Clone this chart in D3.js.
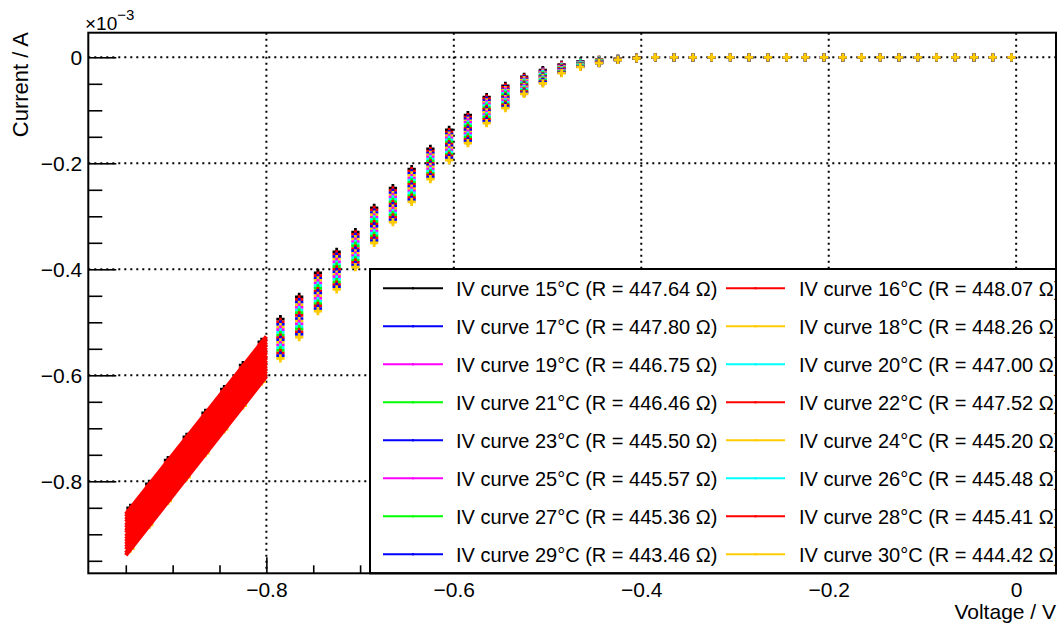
<!DOCTYPE html>
<html><head><meta charset="utf-8">
<script src="https://cdn.jsdelivr.net/npm/d3@7"></script>
<style>
body{margin:0;background:#fff;}
text{font-family:"Liberation Sans",Arial,Helvetica,sans-serif;fill:#000;}
</style>
</head><body>
<svg id="c" width="1061" height="623"></svg>
<script>
// ---------------- data ----------------
const voltages = [-0.945,-0.925,-0.905,-0.885,-0.865,-0.845,-0.825,-0.805,-0.785,-0.765,-0.745,-0.725,-0.705,-0.685,-0.665,-0.645,-0.625,-0.605,-0.585,-0.565,-0.545,-0.525,-0.505,-0.485,-0.465,-0.445,-0.425,-0.405,-0.385,-0.365,-0.345,-0.325,-0.305,-0.285,-0.265,-0.245,-0.225,-0.205,-0.185,-0.165,-0.145,-0.125,-0.105,-0.085,-0.065,-0.045,-0.025,-0.005];
const temperatures = [15,16,17,18,19,20,21,22,23,24,25,26,27,28,29,30];
const resistances = [447.64,448.07,447.80,448.26,446.75,447.00,446.46,447.52,445.50,445.20,445.57,445.48,445.36,445.41,443.46,444.42];
const seriesColors = ["#000000","#ff0000","#0000ff","#ffcc00","#ff00ff","#00ffff","#00ff00","#ff0000","#0000ff","#ffcc00","#ff00ff","#00ffff","#00ff00","#ff0000","#0000ff","#ffcc00"];
// fit value (x1e-3 A) at V = -0.8, fit range [-0.95, -0.8]
const fitAtMinus08 = [-0.527,-0.532,-0.537,-0.542,-0.547,-0.552,-0.557,-0.562,-0.567,-0.572,-0.577,-0.582,-0.587,-0.592,-0.597,-0.602];
const fitRange = [-0.95,-0.8];
// current values in units of 1e-3 A
const iv15 = [-0.850,-0.805,-0.760,-0.716,-0.671,-0.626,-0.581,-0.537,-0.494,-0.452,-0.407,-0.367,-0.330,-0.284,-0.247,-0.211,-0.173,-0.137,-0.109,-0.075,-0.054,-0.037,-0.024,-0.014,-0.008,-0.005,-0.003,-0.001,0,0,0,0,0,0,0,0,0,0,0,0,0,0,0,0,0,0,0,0];
const iv16 = [-0.855,-0.810,-0.765,-0.721,-0.676,-0.631,-0.586,-0.542,-0.499,-0.457,-0.412,-0.372,-0.334,-0.288,-0.251,-0.215,-0.177,-0.141,-0.113,-0.078,-0.057,-0.039,-0.026,-0.015,-0.009,-0.005,-0.003,-0.001,0,0,0,0,0,0,0,0,0,0,0,0,0,0,0,0,0,0,0,0];
const iv17 = [-0.860,-0.815,-0.770,-0.726,-0.681,-0.636,-0.591,-0.547,-0.504,-0.462,-0.417,-0.376,-0.339,-0.293,-0.256,-0.219,-0.181,-0.145,-0.116,-0.082,-0.060,-0.041,-0.027,-0.016,-0.009,-0.006,-0.003,-0.001,0,0,0,0,0,0,0,0,0,0,0,0,0,0,0,0,0,0,0,0];
const iv18 = [-0.865,-0.820,-0.775,-0.731,-0.686,-0.641,-0.596,-0.552,-0.509,-0.467,-0.421,-0.381,-0.343,-0.297,-0.260,-0.223,-0.184,-0.148,-0.120,-0.085,-0.062,-0.043,-0.029,-0.017,-0.010,-0.006,-0.003,-0.001,0,0,0,0,0,0,0,0,0,0,0,0,0,0,0,0,0,0,0,0];
const iv19 = [-0.871,-0.826,-0.781,-0.736,-0.691,-0.646,-0.601,-0.557,-0.514,-0.472,-0.426,-0.386,-0.348,-0.302,-0.264,-0.228,-0.188,-0.152,-0.123,-0.088,-0.065,-0.046,-0.031,-0.018,-0.011,-0.007,-0.004,-0.001,0,0,0,0,0,0,0,0,0,0,0,0,0,0,0,0,0,0,0,0];
const iv20 = [-0.876,-0.831,-0.786,-0.741,-0.696,-0.651,-0.606,-0.562,-0.519,-0.477,-0.431,-0.391,-0.352,-0.306,-0.268,-0.232,-0.192,-0.156,-0.127,-0.091,-0.068,-0.048,-0.032,-0.019,-0.011,-0.007,-0.004,-0.001,0,0,0,0,0,0,0,0,0,0,0,0,0,0,0,0,0,0,0,0];
const iv21 = [-0.881,-0.836,-0.791,-0.746,-0.701,-0.656,-0.611,-0.567,-0.524,-0.482,-0.436,-0.395,-0.356,-0.310,-0.273,-0.236,-0.196,-0.160,-0.130,-0.095,-0.071,-0.050,-0.034,-0.020,-0.012,-0.007,-0.004,-0.001,0,0,0,0,0,0,0,0,0,0,0,0,0,0,0,0,0,0,0,0];
const iv22 = [-0.886,-0.841,-0.796,-0.751,-0.706,-0.661,-0.616,-0.572,-0.529,-0.487,-0.441,-0.400,-0.361,-0.315,-0.277,-0.240,-0.200,-0.164,-0.134,-0.098,-0.074,-0.052,-0.036,-0.021,-0.013,-0.008,-0.004,-0.001,0,0,0,0,0,0,0,0,0,0,0,0,0,0,0,0,0,0,0,0];
const iv23 = [-0.891,-0.846,-0.801,-0.757,-0.712,-0.667,-0.622,-0.577,-0.533,-0.493,-0.445,-0.405,-0.365,-0.319,-0.281,-0.244,-0.203,-0.167,-0.137,-0.101,-0.076,-0.054,-0.037,-0.023,-0.013,-0.008,-0.004,-0.002,0,0,0,0,0,0,0,0,0,0,0,0,0,0,0,0,0,0,0,0];
const iv24 = [-0.896,-0.851,-0.806,-0.762,-0.717,-0.672,-0.627,-0.582,-0.538,-0.498,-0.450,-0.410,-0.370,-0.324,-0.285,-0.248,-0.207,-0.171,-0.141,-0.104,-0.079,-0.056,-0.039,-0.024,-0.014,-0.009,-0.004,-0.002,0,0,0,0,0,0,0,0,0,0,0,0,0,0,0,0,0,0,0,0];
const iv25 = [-0.901,-0.856,-0.811,-0.767,-0.722,-0.677,-0.632,-0.587,-0.543,-0.503,-0.455,-0.414,-0.374,-0.328,-0.290,-0.252,-0.211,-0.175,-0.144,-0.108,-0.082,-0.058,-0.041,-0.025,-0.015,-0.009,-0.004,-0.002,0,0,0,0,0,0,0,0,0,0,0,0,0,0,0,0,0,0,0,0];
const iv26 = [-0.906,-0.861,-0.816,-0.772,-0.727,-0.682,-0.637,-0.592,-0.548,-0.508,-0.460,-0.419,-0.378,-0.332,-0.294,-0.256,-0.215,-0.179,-0.148,-0.111,-0.085,-0.060,-0.042,-0.026,-0.015,-0.009,-0.004,-0.002,0,0,0,0,0,0,0,0,0,0,0,0,0,0,0,0,0,0,0,0];
const iv27 = [-0.912,-0.867,-0.822,-0.777,-0.732,-0.687,-0.642,-0.597,-0.553,-0.513,-0.465,-0.424,-0.383,-0.337,-0.298,-0.261,-0.219,-0.183,-0.151,-0.114,-0.088,-0.063,-0.044,-0.027,-0.016,-0.010,-0.005,-0.002,0,0,0,0,0,0,0,0,0,0,0,0,0,0,0,0,0,0,0,0];
const iv28 = [-0.917,-0.872,-0.827,-0.782,-0.737,-0.692,-0.647,-0.602,-0.558,-0.518,-0.469,-0.429,-0.387,-0.341,-0.302,-0.265,-0.222,-0.186,-0.155,-0.117,-0.090,-0.065,-0.046,-0.028,-0.017,-0.010,-0.005,-0.002,0,0,0,0,0,0,0,0,0,0,0,0,0,0,0,0,0,0,0,0];
const iv29 = [-0.922,-0.877,-0.832,-0.787,-0.742,-0.697,-0.652,-0.607,-0.563,-0.523,-0.474,-0.433,-0.392,-0.346,-0.307,-0.269,-0.226,-0.190,-0.158,-0.121,-0.093,-0.067,-0.047,-0.029,-0.017,-0.011,-0.005,-0.002,0,0,0,0,0,0,0,0,0,0,0,0,0,0,0,0,0,0,0,0];
const iv30 = [-0.927,-0.882,-0.837,-0.792,-0.747,-0.702,-0.657,-0.612,-0.568,-0.528,-0.479,-0.438,-0.396,-0.350,-0.311,-0.273,-0.230,-0.194,-0.162,-0.124,-0.096,-0.069,-0.049,-0.030,-0.018,-0.011,-0.005,-0.002,0,0,0,0,0,0,0,0,0,0,0,0,0,0,0,0,0,0,0,0];
const currents = [iv15,iv16,iv17,iv18,iv19,iv20,iv21,iv22,iv23,iv24,iv25,iv26,iv27,iv28,iv29,iv30];

const xMajorTicks = [-0.8,-0.6,-0.4,-0.2,0];
const xMinorTicks = [-0.95,-0.9,-0.85,-0.75,-0.7,-0.65,-0.55,-0.5,-0.45,-0.35,-0.3,-0.25,-0.15,-0.1,-0.05];
const yMajorTicks = [0,-0.2,-0.4,-0.6,-0.8];
const yMinorTicks = [-0.05,-0.1,-0.15,-0.25,-0.3,-0.35,-0.45,-0.5,-0.55,-0.65,-0.7,-0.75,-0.85,-0.9,-0.95];

// ---------------- layout ----------------
const svg = d3.select("#c");
const frame = {l:88.3, t:32.7, r:1056, b:573.3};
const x = d3.scaleLinear().domain([-0.990, 0.0425]).range([frame.l, frame.r]);
const y = d3.scaleLinear().domain([-0.9736, 0.0464]).range([frame.b, frame.t]);

svg.append("rect").attr("width",1061).attr("height",623).attr("fill","#fff");

// grid
const grid = svg.append("g").attr("stroke","#000").attr("stroke-width",2).attr("stroke-dasharray","2,4");
grid.selectAll(".gx").data(xMajorTicks).join("line")
  .attr("x1",d=>x(d)).attr("x2",d=>x(d)).attr("y1",frame.t).attr("y2",frame.b);
grid.selectAll(".gy").data(yMajorTicks).join("line")
  .attr("y1",d=>y(d)).attr("y2",d=>y(d)).attr("x1",frame.l).attr("x2",frame.r);

// axes
const fmt = d => d===0 ? "0" : d3.format(".1f")(d);
function styleAxis(g, size){
  g.select(".domain").remove();
  g.selectAll(".tick line").attr("stroke","#000").attr("stroke-width",1.6);
  g.selectAll(".tick text").attr("font-size",size).attr("font-family","'Liberation Sans',Arial,sans-serif").attr("fill","#000");
}
const xAxisMaj = svg.append("g").attr("transform",`translate(0,${frame.b})`)
  .call(d3.axisBottom(x).tickValues(xMajorTicks).tickSize(-16).tickPadding(9).tickFormat(fmt));
styleAxis(xAxisMaj, 21);
const xAxisMin = svg.append("g").attr("transform",`translate(0,${frame.b})`)
  .call(d3.axisBottom(x).tickValues(xMinorTicks).tickSize(-8).tickFormat(""));
styleAxis(xAxisMin, 21);
const yAxisMaj = svg.append("g").attr("transform",`translate(${frame.l},0)`)
  .call(d3.axisLeft(y).tickValues(yMajorTicks).tickSize(-28).tickPadding(6).tickFormat(fmt));
styleAxis(yAxisMaj, 21);
const yAxisMin = svg.append("g").attr("transform",`translate(${frame.l},0)`)
  .call(d3.axisLeft(y).tickValues(yMinorTicks).tickSize(-14).tickFormat(""));
styleAxis(yAxisMin, 21);

// data: markers of all graphs, then the fit functions on top
svg.append("clipPath").attr("id","plotclip").append("rect")
  .attr("x",frame.l).attr("y",frame.t).attr("width",frame.r-frame.l).attr("height",frame.b-frame.t);
const plot = svg.append("g").attr("clip-path","url(#plotclip)");
const cross = d3.symbol().type(d3.symbolCross).size(38);
const fitLine = d3.line().x(d=>x(d[0])).y(d=>y(d[1]));
currents.forEach((vals,i)=>{
  const pts = voltages.map((v,j)=>[v, vals[j]]);
  plot.append("g").selectAll("path").data(pts).join("path")
    .attr("d",cross)
    .attr("transform",d=>`translate(${x(d[0])},${y(d[1])})`)
    .attr("fill",seriesColors[i]);
});
currents.forEach((vals,i)=>{
  const f = v => fitAtMinus08[i] + (v - fitRange[1]) * 1000 / resistances[i];
  plot.append("path")
    .attr("d",fitLine(fitRange.map(v=>[v, f(v)])))
    .attr("fill","none").attr("stroke","#ff0000").attr("stroke-width",4);
});

// legend
const leg = {l:370, t:269, r:1056, b:573.3};
svg.append("clipPath").attr("id","legclip").append("rect")
  .attr("x",leg.l).attr("y",leg.t).attr("width",leg.r-leg.l-1).attr("height",leg.b-leg.t);
svg.append("rect").attr("x",leg.l).attr("y",leg.t).attr("width",leg.r-leg.l).attr("height",leg.b-leg.t)
  .attr("fill","#fff").attr("stroke","#000").attr("stroke-width",2);
const lg = svg.append("g").attr("clip-path","url(#legclip)");
const colX = [{l1:383,l2:443,t:456},{l1:726,l2:785,t:799}];
temperatures.forEach((T,i)=>{
  const row = Math.floor(i/2), col = i%2;
  const cy = 288.3 + row*38;
  const c = colX[col];
  lg.append("line").attr("x1",c.l1).attr("x2",c.l2).attr("y1",cy).attr("y2",cy)
    .attr("stroke",seriesColors[i]).attr("stroke-width",2);
  lg.append("circle").attr("cx",(c.l1+c.l2)/2).attr("cy",cy).attr("r",1.2).attr("fill",seriesColors[i]);
  lg.append("text").attr("x",c.t).attr("y",cy+7.5).attr("font-size",20)
    .text(`IV curve ${T}°C (R = ${resistances[i].toFixed(2)} Ω)`);
});

// frame
svg.append("rect").attr("x",frame.l).attr("y",frame.t).attr("width",frame.r-frame.l).attr("height",frame.b-frame.t)
  .attr("fill","none").attr("stroke","#000").attr("stroke-width",2);

// titles
svg.append("text").attr("x",frame.r).attr("y",619).attr("text-anchor","end").attr("font-size",21).text("Voltage / V");
svg.append("text").attr("transform","translate(28,32) rotate(-90)").attr("text-anchor","end").attr("font-size",22).text("Current / A");
const ex = svg.append("text").attr("x",85).attr("y",29.5).attr("font-size",19);
ex.append("tspan").text("×10");
ex.append("tspan").attr("font-size",15).attr("dy",-10).text("−3");
</script>
</body></html>
